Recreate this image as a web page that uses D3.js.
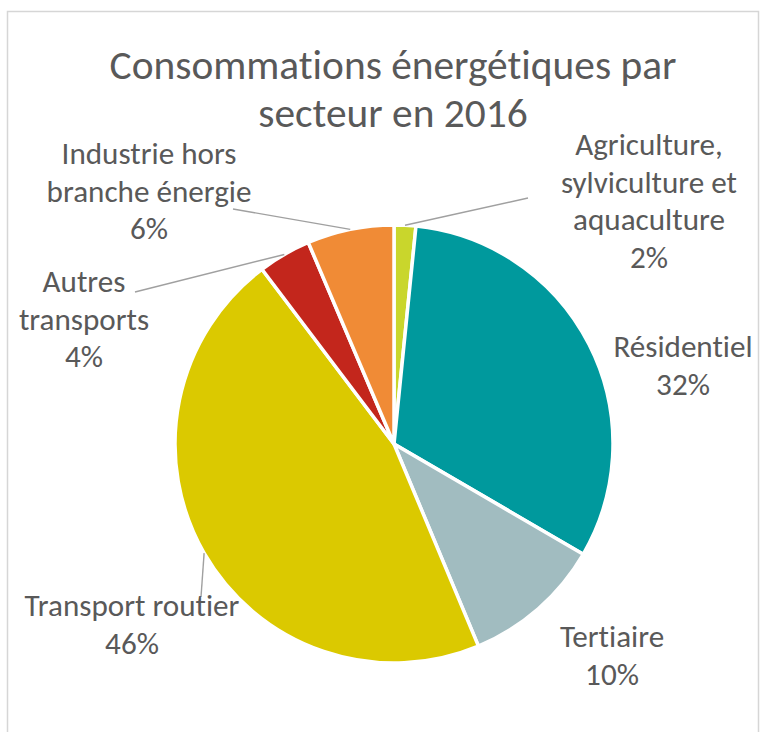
<!DOCTYPE html>
<html><head><meta charset="utf-8">
<script src="https://cdn.jsdelivr.net/npm/d3@7"></script>
<style>html,body{margin:0;padding:0;background:#fff;overflow:hidden} text{font-variant-ligatures:none;font-feature-settings:"liga" 0}</style>
</head><body><svg id="c" width="764" height="732"></svg>
<script>
// ---- data ----
const categories = ["Agriculture, sylviculture et aquaculture", "Résidentiel", "Tertiaire",
  "Transport routier", "Autres transports", "Industrie hors branche énergie"];
const labelLines = [["Agriculture,", "sylviculture et", "aquaculture"], ["Résidentiel"], ["Tertiaire"],
  ["Transport routier"], ["Autres", "transports"], ["Industrie hors", "branche énergie"]];
const values = [1.6, 31.8, 10.3, 46.0, 3.9, 6.4];
const colors = ["#c9d62c", "#00999d", "#a1bcc0", "#dbc900", "#c3261c", "#f08b36"];
const titleLines = ["Consommations énergétiques par", "secteur en 2016"];

// ---- layout (not data) ----
const W = 764, H = 732;
const cx = 394, cy = 444, R = 219;
const labelLayout = [
  {x: 649, y: 155, leader: [528, 198]},
  {x: 683, y: 357, leader: null},
  {x: 612, y: 647, leader: null},
  {x: 132, y: 616, leader: [201, 597]},
  {x: 84,  y: 292, leader: [135, 292]},
  {x: 149, y: 164, leader: [233, 209]}
];
const lineH = 37.5;
const FONT = "Carlito, Lato, 'Open Sans', sans-serif";
const textColor = "#595959";

const svg = d3.select("#c");
svg.append("rect").attr("width", W).attr("height", H).attr("fill", "#fff");
svg.append("rect").attr("x", 7.5).attr("y", 11.5).attr("width", 751).attr("height", 740)
  .attr("fill", "none").attr("stroke", "#d6d6d6").attr("stroke-width", 1.5);

function fitSize(text, target) {
  const t = svg.append("text").attr("font-family", FONT).attr("font-size", 100).text(text);
  const w = t.node().getComputedTextLength();
  t.remove();
  return 100 * target / w;
}
const titleSize = fitSize(titleLines[0], 567);
const labelSize = fitSize("Transport routier", 215);

// title
const title = svg.append("text").attr("font-family", FONT).attr("font-size", titleSize)
  .attr("fill", textColor).attr("text-anchor", "middle");
titleLines.forEach((l, i) => title.append("tspan").attr("x", 393).attr("y", 79 + i * 48).text(l));

// pie
const pie = d3.pie().sort(null).value(d => d).startAngle(0).endAngle(2 * Math.PI);
const arcs = pie(values);
const arc = d3.arc().innerRadius(0).outerRadius(R);
const g = svg.append("g").attr("transform", `translate(${cx},${cy})`);
g.selectAll("path").data(arcs).join("path")
  .attr("d", arc).attr("fill", (d, i) => colors[i])
  .attr("stroke", "#fff").attr("stroke-width", 3.5).attr("stroke-linejoin", "round");

// leader lines
arcs.forEach((d, i) => {
  const L = labelLayout[i];
  if (!L.leader) return;
  const a = (d.startAngle + d.endAngle) / 2;
  const px = cx + R * Math.sin(a), py = cy - R * Math.cos(a);
  svg.append("line").attr("x1", L.leader[0]).attr("y1", L.leader[1])
    .attr("x2", px).attr("y2", py)
    .attr("stroke", "#a0a0a0").attr("stroke-width", 1.4);
});

// labels
const fmt = v => Math.round(v) + "%";
arcs.forEach((d, i) => {
  const L = labelLayout[i];
  const t = svg.append("text").attr("font-family", FONT).attr("font-size", labelSize)
    .attr("fill", textColor).attr("text-anchor", "middle");
  const lines = labelLines[i].concat([fmt(values[i])]);
  lines.forEach((l, k) => t.append("tspan").attr("x", L.x).attr("y", L.y + k * lineH).text(l));
});
</script>
</body></html>
